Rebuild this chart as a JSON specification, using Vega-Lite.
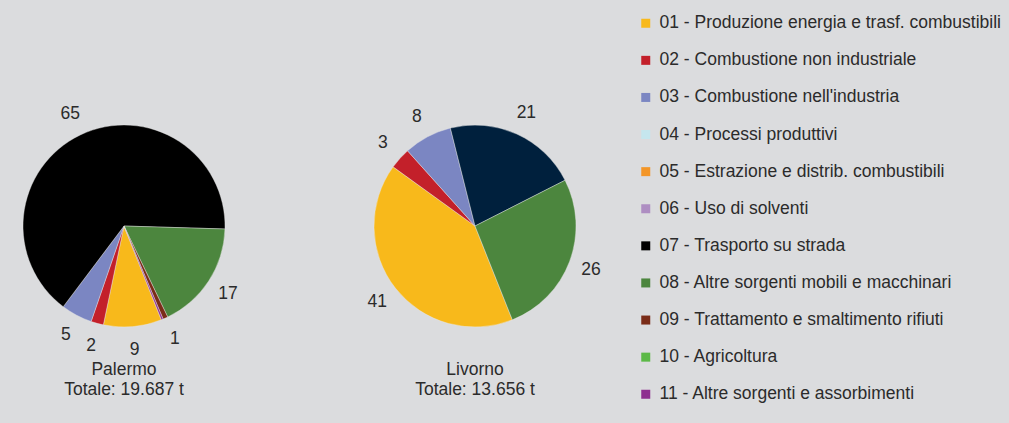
{
  "$schema": "https://vega.github.io/schema/vega-lite/v6.json",
  "background": "#dbdcde",
  "padding": {"left": 9, "top": 14, "right": 30, "bottom": 30},
  "bounds": "flush",
  "data": {"values": [
    {"panel": "Palermo|Totale: 19.687 t", "cat": "01 - Produzione energia e trasf. combustibili", "value": 9.3},
    {"panel": "Palermo|Totale: 19.687 t", "cat": "02 - Combustione non industriale", "value": 2.0},
    {"panel": "Palermo|Totale: 19.687 t", "cat": "03 - Combustione nell'industria", "value": 5.0},
    {"panel": "Palermo|Totale: 19.687 t", "cat": "07 - Trasporto su strada", "value": 65.2},
    {"panel": "Palermo|Totale: 19.687 t", "cat": "08 - Altre sorgenti mobili e macchinari", "value": 17.4},
    {"panel": "Palermo|Totale: 19.687 t", "cat": "09 - Trattamento e smaltimento rifiuti", "value": 0.8},
    {"panel": "Palermo|Totale: 19.687 t", "cat": "11 - Altre sorgenti e assorbimenti", "value": 0.3},
    {"panel": "Livorno|Totale: 13.656 t", "cat": "01 - Produzione energia e trasf. combustibili", "value": 40.9},
    {"panel": "Livorno|Totale: 13.656 t", "cat": "02 - Combustione non industriale", "value": 3.4},
    {"panel": "Livorno|Totale: 13.656 t", "cat": "03 - Combustione nell'industria", "value": 7.7},
    {"panel": "Livorno|Totale: 13.656 t", "cat": "07 - Trasporto su strada", "value": 21.4},
    {"panel": "Livorno|Totale: 13.656 t", "cat": "08 - Altre sorgenti mobili e macchinari", "value": 26.4}
  ]},
  "facet": {
    "column": {
      "field": "panel", "type": "nominal",
      "sort": ["Palermo|Totale: 19.687 t", "Livorno|Totale: 13.656 t"],
      "title": null,
      "header": {
        "labelOrient": "bottom",
        "labelExpr": "split(datum.value, '|')",
        "labelFont": "Liberation Sans",
        "labelFontSize": 17.5,
        "labelColor": "#2b2b2b",
        "labelPadding": 5,
        "labelLineHeight": 19.5,
        "labelBaseline": "top"
      }
    }
  },
  "spacing": {"column": 121},
  "spec": {
    "width": 230,
    "height": 260,
    "encoding": {
      "theta": {"field": "value", "type": "quantitative", "stack": "normalize", "scale": {"domain": [0, 1], "range": [2.763, 9.046]}},
      "order": {"field": "cat", "sort": "ascending"},
      "detail": {"field": "cat"}
    },
    "layer": [
      {
        "mark": {"type": "arc", "outerRadius": 101, "stroke": "#ececec", "strokeWidth": 0.4},
        "encoding": {
          "color": {
            "condition": {"test": "indexof(datum.panel, 'Livorno') === 0 && datum.cat === '07 - Trasporto su strada'", "value": "#00203d"},
            "field": "cat", "type": "nominal",
            "scale": {
              "domain": [
                "01 - Produzione energia e trasf. combustibili",
                "02 - Combustione non industriale",
                "03 - Combustione nell'industria",
                "04 - Processi produttivi",
                "05 - Estrazione e distrib. combustibili",
                "06 - Uso di solventi",
                "07 - Trasporto su strada",
                "08 - Altre sorgenti mobili e macchinari",
                "09 - Trattamento e smaltimento rifiuti",
                "10 - Agricoltura",
                "11 - Altre sorgenti e assorbimenti"
              ],
              "range": ["#f8b91b", "#c3202a", "#7b86c2", "#c5e6ee", "#f39628", "#ae8ec2", "#000000", "#4c863e", "#7a2c18", "#5cb947", "#8e2f8f"]
            },
            "legend": {
              "title": null,
              "orient": "none",
              "legendX": 628,
              "legendY": -81.5,
              "padding": 0,
              "symbolType": "square",
              "symbolSize": 81,
              "symbolStrokeWidth": 0,
              "symbolOpacity": 1,
              "labelFont": "Liberation Sans",
              "labelFontSize": 17.5,
              "labelColor": "#2b2b2b",
              "labelOffset": 5,
              "labelLimit": 500,
              "rowPadding": 18.1
            }
          }
        }
      },
      {
        "mark": {"type": "text", "radius": 124, "font": "Liberation Sans", "fontSize": 17.5, "fill": "#2b2b2b"},
        "encoding": {
          "text": {"condition": {"test": "datum.value < 0.5", "value": ""}, "field": "value", "type": "quantitative", "format": ".0f"}
        }
      }
    ]
  },
  "config": {"view": {"stroke": null}}
}
